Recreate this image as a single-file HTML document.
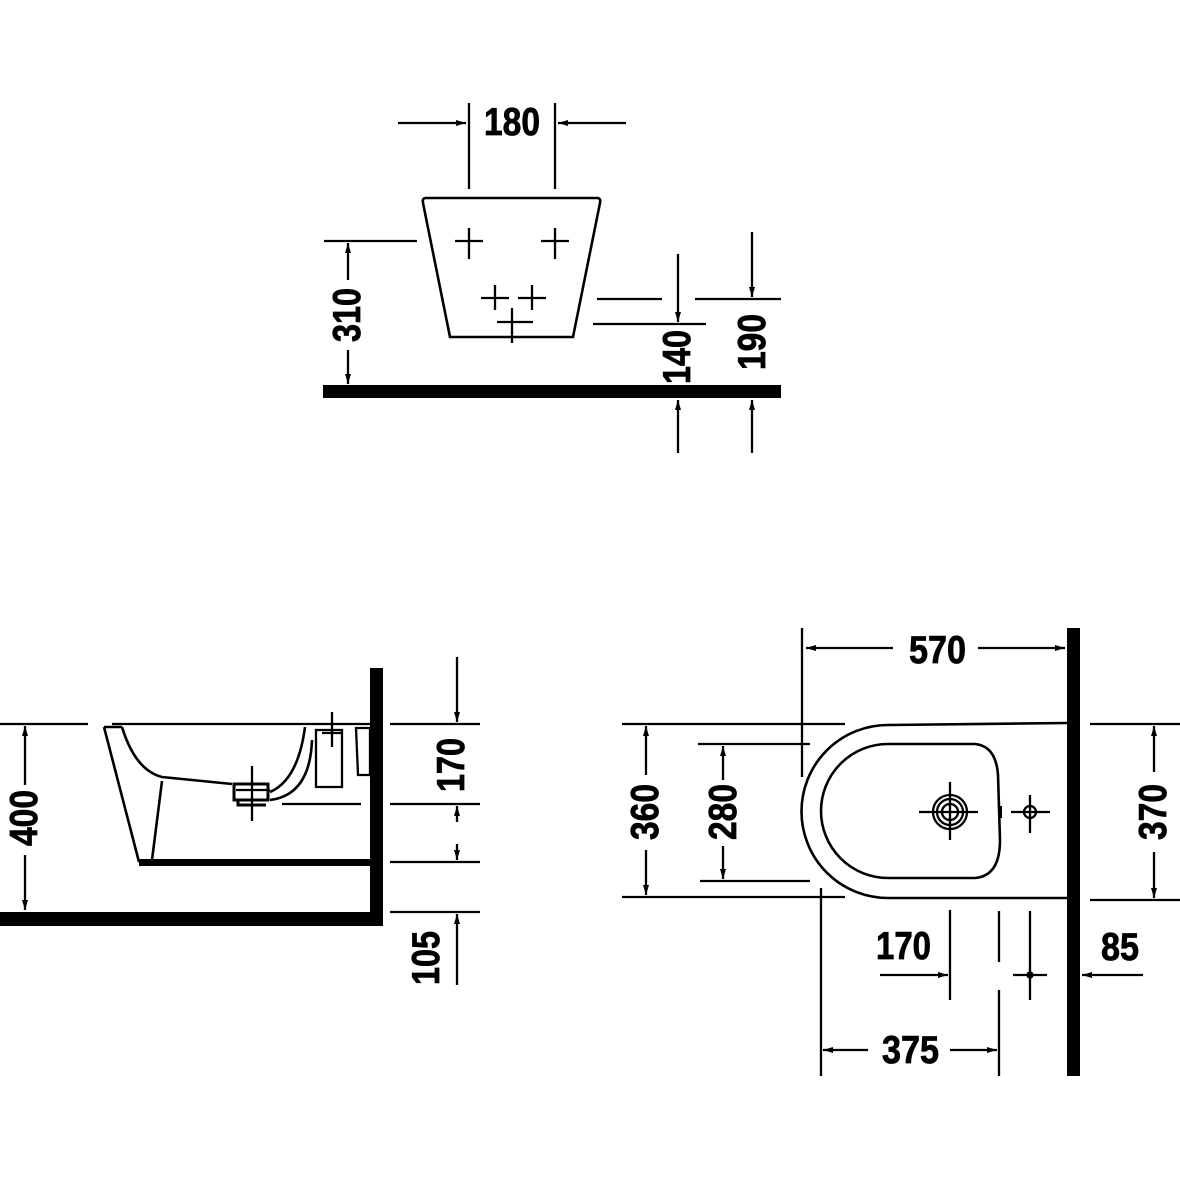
<!DOCTYPE html>
<html><head><meta charset="utf-8"><style>html,body{margin:0;padding:0;background:#fff}svg{display:block}text{font-family:"Liberation Sans",sans-serif;font-weight:bold;font-size:39px;fill:#000;stroke:#000;stroke-width:0.8}</style></head><body>
<svg width="1180" height="1181" viewBox="0 0 1180 1181" xmlns="http://www.w3.org/2000/svg">
<defs><marker id="a" viewBox="0 0 10 6" refX="10" refY="3" markerWidth="10" markerHeight="6" markerUnits="userSpaceOnUse" orient="auto"><path d="M0,0 L10,3 L0,6 z" fill="#000"/></marker></defs>
<g stroke="#000" stroke-width="2.3" fill="none">
<!-- TOP VIEW -->
<line x1="469" y1="103" x2="469" y2="189"/><line x1="555" y1="103" x2="555" y2="189"/>
<line x1="398" y1="123" x2="466" y2="123" marker-end="url(#a)"/>
<line x1="626" y1="123" x2="558" y2="123" marker-end="url(#a)"/>
<path d="M426,198 L598,198 Q601,199 600,203 L573,337 L450,337 L423,203 Q422,198 426,198 Z" stroke-width="2.6"/>
<path d="M455,241 H483 M469,228 V259 M541,241 H569 M555,228 V259 M481,298 H509 M495,285 V310 M518,298 H546 M532,285 V310 M497,322 H533 M512,308 V343"/>
<line x1="324" y1="241" x2="417" y2="241"/>
<line x1="348" y1="280" x2="348" y2="243" marker-end="url(#a)"/>
<line x1="348" y1="350" x2="348" y2="384" marker-end="url(#a)"/>
<line x1="597" y1="299" x2="662" y2="299"/><line x1="593" y1="324" x2="706" y2="324"/>
<line x1="678" y1="254" x2="678" y2="322" marker-end="url(#a)"/>
<line x1="678" y1="453" x2="678" y2="400" marker-end="url(#a)"/>
<line x1="695" y1="299" x2="781" y2="299"/>
<line x1="752" y1="232" x2="752" y2="297" marker-end="url(#a)"/>
<line x1="752" y1="453" x2="752" y2="400" marker-end="url(#a)"/>
<!-- SIDE VIEW -->
<line x1="0" y1="724" x2="88" y2="724"/>
<line x1="25" y1="785" x2="25" y2="726" marker-end="url(#a)"/>
<line x1="25" y1="855" x2="25" y2="910" marker-end="url(#a)"/>
<line x1="112" y1="724" x2="370" y2="724"/>
<path d="M104,727 H122 M104,727 L139,862 M122,727 Q135,770 162,777 L232,784 M270,792 Q298,780 305,727 M270,800 Q310,795 312,740 M162,781 L152,860" stroke-width="2.6"/>
<path d="M234,784 H268 V800 H234 Z M238,800 V805 H266" stroke-width="3"/>
<path d="M252,766 V821 M236,790 H270"/>
<path d="M316,730 H342 V787 H316 Z M332,712 V747 M322,733 H342"/>
<path d="M356,728 H370 V775 H358 Z"/>
<line x1="282" y1="804" x2="361" y2="804"/>
<line x1="390" y1="724" x2="480" y2="724"/><line x1="390" y1="804" x2="480" y2="804"/>
<line x1="390" y1="862" x2="480" y2="862"/><line x1="390" y1="912" x2="480" y2="912"/>
<line x1="457" y1="657" x2="457" y2="722" marker-end="url(#a)"/>
<line x1="457" y1="822" x2="457" y2="806" marker-end="url(#a)"/>
<line x1="457" y1="844" x2="457" y2="860" marker-end="url(#a)"/>
<line x1="457" y1="985" x2="457" y2="914" marker-end="url(#a)"/>
<!-- PLAN VIEW -->
<line x1="802" y1="628" x2="802" y2="777"/>
<line x1="893" y1="648" x2="806" y2="648" marker-end="url(#a)"/>
<line x1="978" y1="648" x2="1065" y2="648" marker-end="url(#a)"/>
<line x1="622" y1="724" x2="845" y2="724"/><line x1="622" y1="897" x2="845" y2="897"/>
<path d="M1067,723 L888,725 A86,86 0 0 0 888,898 L1067,898" stroke-width="2.6"/>
<path d="M888,744 L975,744 Q996,746 998,775 L1000,840 Q1000,876 975,878 L888,878 A67,67 0 0 1 888,744 Z" stroke-width="2.6"/>
<circle cx="950" cy="812" r="17"/><circle cx="950" cy="812" r="13"/><circle cx="950" cy="812" r="8"/>
<path d="M919,812 H978 M950,782 V840"/>
<circle cx="1030" cy="812" r="6"/><path d="M1011,812 H1050 M1030,795 V833"/>
<line x1="1000" y1="806" x2="1000" y2="818" stroke-width="4"/>
<line x1="698" y1="744" x2="810" y2="744"/><line x1="700" y1="881" x2="810" y2="881"/>
<line x1="723" y1="780" x2="723" y2="746" marker-end="url(#a)"/>
<line x1="723" y1="846" x2="723" y2="879" marker-end="url(#a)"/>
<line x1="646" y1="775" x2="646" y2="726" marker-end="url(#a)"/>
<line x1="646" y1="850" x2="646" y2="895" marker-end="url(#a)"/>
<line x1="1090" y1="724" x2="1180" y2="724"/><line x1="1090" y1="900" x2="1180" y2="900"/>
<line x1="1154" y1="772" x2="1154" y2="726" marker-end="url(#a)"/>
<line x1="1154" y1="852" x2="1154" y2="898" marker-end="url(#a)"/>
<line x1="950" y1="910" x2="950" y2="1000"/>
<line x1="880" y1="975" x2="948" y2="975" marker-end="url(#a)"/>
<line x1="999" y1="911" x2="999" y2="962"/><line x1="999" y1="990" x2="999" y2="1076"/>
<path d="M1030,911 V1000 M1013,975 H1047"/><circle cx="1030" cy="975" r="2.5" fill="#000"/>
<line x1="1143" y1="975" x2="1082" y2="975" marker-end="url(#a)"/>
<line x1="821" y1="888" x2="821" y2="1076"/>
<line x1="868" y1="1050" x2="823" y2="1050" marker-end="url(#a)"/>
<line x1="950" y1="1050" x2="997" y2="1050" marker-end="url(#a)"/>
</g>
<g fill="#000">
<rect x="323" y="385" width="458" height="13"/>
<rect x="0" y="912" width="383" height="14"/><rect x="370" y="668" width="13" height="258"/>
<rect x="139" y="859" width="231" height="7"/>
<rect x="1067" y="628" width="13" height="448"/>
</g>
<g>
<text x="484" y="135" textLength="56" lengthAdjust="spacingAndGlyphs">180</text>
<text transform="translate(360,342) rotate(-90)" textLength="54" lengthAdjust="spacingAndGlyphs">310</text>
<text transform="translate(690,384) rotate(-90)" textLength="54" lengthAdjust="spacingAndGlyphs">140</text>
<text transform="translate(765,370) rotate(-90)" textLength="56" lengthAdjust="spacingAndGlyphs">190</text>
<text transform="translate(37,846) rotate(-90)" textLength="56" lengthAdjust="spacingAndGlyphs">400</text>
<text transform="translate(464,792) rotate(-90)" textLength="54" lengthAdjust="spacingAndGlyphs">170</text>
<text transform="translate(439,985) rotate(-90)" textLength="54" lengthAdjust="spacingAndGlyphs">105</text>
<text x="909" y="663" textLength="57" lengthAdjust="spacingAndGlyphs">570</text>
<text transform="translate(658,840) rotate(-90)" textLength="56" lengthAdjust="spacingAndGlyphs">360</text>
<text transform="translate(736,840) rotate(-90)" textLength="56" lengthAdjust="spacingAndGlyphs">280</text>
<text transform="translate(1166,840) rotate(-90)" textLength="56" lengthAdjust="spacingAndGlyphs">370</text>
<text x="876" y="959" textLength="55" lengthAdjust="spacingAndGlyphs">170</text>
<text x="1101" y="960" textLength="38" lengthAdjust="spacingAndGlyphs">85</text>
<text x="882" y="1063" textLength="57" lengthAdjust="spacingAndGlyphs">375</text>
</g>
</svg>
</body></html>
